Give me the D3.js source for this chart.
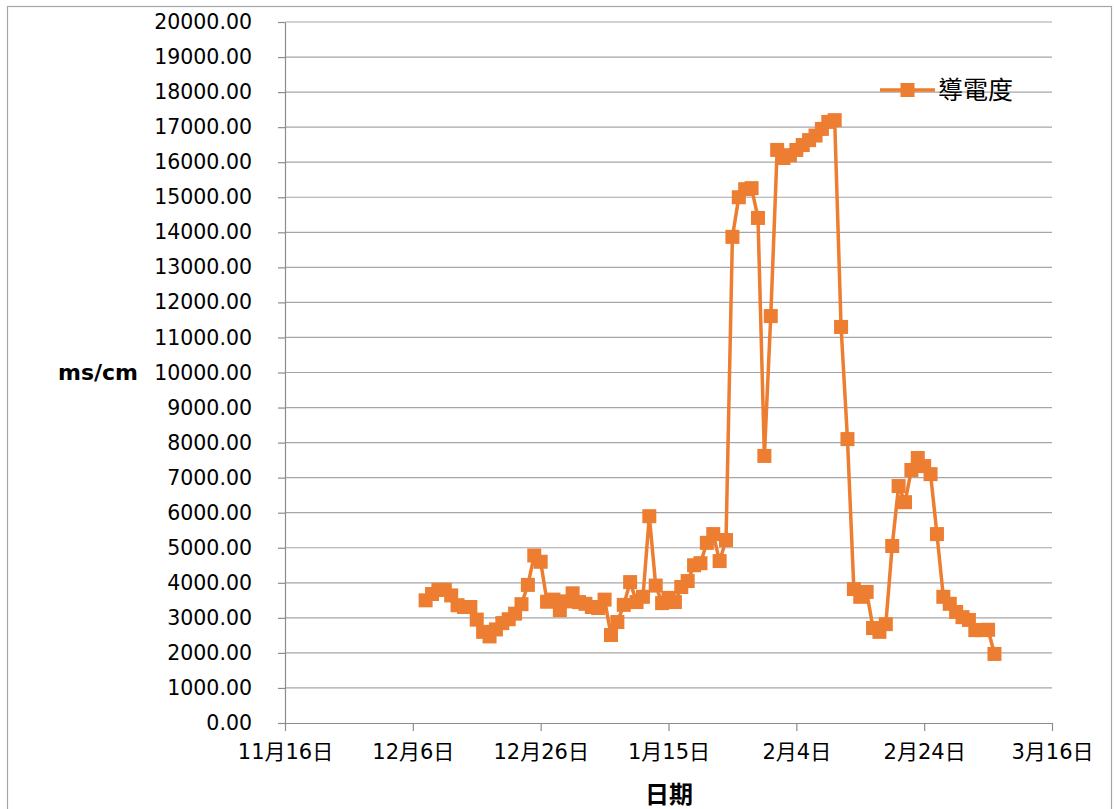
<!DOCTYPE html>
<meta charset="utf-8">
<style>
    body { margin: 0; background: #fff; }
    .grid line { stroke: #a6a6a6; stroke-width: 1.2; }
    .axis path, .axis line { stroke: #8c8c8c; stroke-width: 1.2; }
    .axis text { fill: #000; font-family: "DejaVu Sans", "Noto Sans CJK TC", sans-serif; }
</style>

<body>
    <svg width="1114" height="809"></svg>
    <script src="https://d3js.org/d3.v7.min.js"></script>
    <script>
        // first reading is 12月8日, one reading a day
        var startDate = "2013-12-08";
        var conductivity = [
            3500, 3680, 3800, 3800, 3640, 3360, 3310, 3310, 2950, 2600,
            2470, 2670, 2850, 2960, 3120, 3390, 3940, 4780, 4600, 3460,
            3520, 3220, 3470, 3700, 3450, 3400, 3310, 3280, 3520, 2510,
            2880, 3370, 4020, 3450, 3600, 5900, 3920, 3420, 3570, 3450,
            3880, 4050, 4500, 4560, 5140, 5390, 4620, 5220, 13870, 15000,
            15230, 15260, 14410, 7620, 11610, 16350, 16120, 16200, 16350, 16490,
            16630, 16760, 16950, 17150, 17200, 11300, 8100, 3820, 3600, 3740,
            2710, 2600, 2820, 5050, 6760, 6300, 7220, 7560, 7330, 7100,
            5390, 3600, 3400, 3170, 3020, 2940, 2650, 2650, 2660, 1970
        ];
        var xTicks = ["2013-11-16", "2013-12-06", "2013-12-26", "2014-01-15", "2014-02-04", "2014-02-24", "2014-03-16"];
        var yTicks = d3.range(0, 20001, 1000);
        var seriesName = "導電度";

        var parseD = d3.timeParse("%Y-%m-%d");
        var t0 = parseD(startDate);
        var data = conductivity.map(function (v, i) {
            return { date: d3.timeDay.offset(t0, i), value: v };
        });
        var tickDates = xTicks.map(parseD);

        var svg = d3.select("svg"),
            plotLeft = 285, plotRight = 1052, plotTop = 22, plotBottom = 723;

        // chart frame
        svg.append("rect")
            .attr("x", 7.5).attr("y", 6.5)
            .attr("width", 1104).attr("height", 900)
            .attr("fill", "none").attr("stroke", "#a6a6a6").attr("stroke-width", 1.2);

        var x = d3.scaleTime().domain([tickDates[0], tickDates[tickDates.length - 1]]).range([plotLeft, plotRight]);
        var y = d3.scaleLinear().domain([0, 20000]).range([plotBottom, plotTop]);

        // horizontal gridlines
        svg.append("g")
            .attr("class", "grid")
            .selectAll("line")
            .data(yTicks.slice(1))
            .enter().append("line")
            .attr("x1", plotLeft).attr("x2", plotRight)
            .attr("y1", function (d) { return y(d); })
            .attr("y2", function (d) { return y(d); });

        var yAxis = d3.axisLeft(y)
            .tickValues(yTicks)
            .tickFormat(d3.format(".2f"))
            .tickSize(7).tickSizeOuter(0).tickPadding(26);

        svg.append("g")
            .attr("class", "axis axis--y")
            .attr("transform", "translate(" + plotLeft + ",0)")
            .call(yAxis)
            .selectAll("text").style("font-size", "20.5px");

        var xAxis = d3.axisBottom(x)
            .tickValues(tickDates)
            .tickFormat(function (d) { return (d.getMonth() + 1) + "月" + d.getDate() + "日"; })
            .tickSize(8).tickSizeOuter(0).tickPadding(13);

        svg.append("g")
            .attr("class", "axis axis--x")
            .attr("transform", "translate(0," + plotBottom + ")")
            .call(xAxis)
            .selectAll("text").style("font-size", "21px");

        // axis titles
        svg.append("text")
            .attr("x", 98).attr("y", 380)
            .attr("text-anchor", "middle")
            .style("font-family", "DejaVu Sans, sans-serif")
            .style("font-weight", "bold")
            .style("font-size", "22px")
            .text("ms/cm");

        svg.append("text")
            .attr("x", 669).attr("y", 803)
            .attr("text-anchor", "middle")
            .style("font-family", "Noto Sans CJK TC, sans-serif")
            .style("font-weight", "bold")
            .style("font-size", "24px")
            .text("日期");

        // series
        var line = d3.line()
            .x(function (d) { return x(d.date); })
            .y(function (d) { return y(d.value); });

        svg.append("path")
            .datum(data)
            .attr("fill", "none")
            .attr("stroke", "#ed7d31")
            .attr("stroke-width", 3.5)
            .attr("stroke-linejoin", "round")
            .attr("d", line);

        var ms = 14;
        svg.append("g")
            .selectAll("rect")
            .data(data)
            .enter().append("rect")
            .attr("x", function (d) { return x(d.date) - ms / 2; })
            .attr("y", function (d) { return y(d.value) - ms / 2; })
            .attr("width", ms).attr("height", ms)
            .attr("fill", "#ed7d31");

        // legend
        var legend = svg.append("g").attr("transform", "translate(880,90)");
        legend.append("line")
            .attr("x1", 0).attr("x2", 55)
            .attr("stroke", "#ed7d31").attr("stroke-width", 3.5);
        legend.append("rect")
            .attr("x", 27.5 - ms / 2).attr("y", -ms / 2)
            .attr("width", ms).attr("height", ms)
            .attr("fill", "#ed7d31");
        legend.append("text")
            .attr("x", 58).attr("y", 9)
            .style("font-family", "Noto Sans CJK TC, sans-serif")
            .style("font-size", "25px")
            .text(seriesName);
    </script>
</body>
